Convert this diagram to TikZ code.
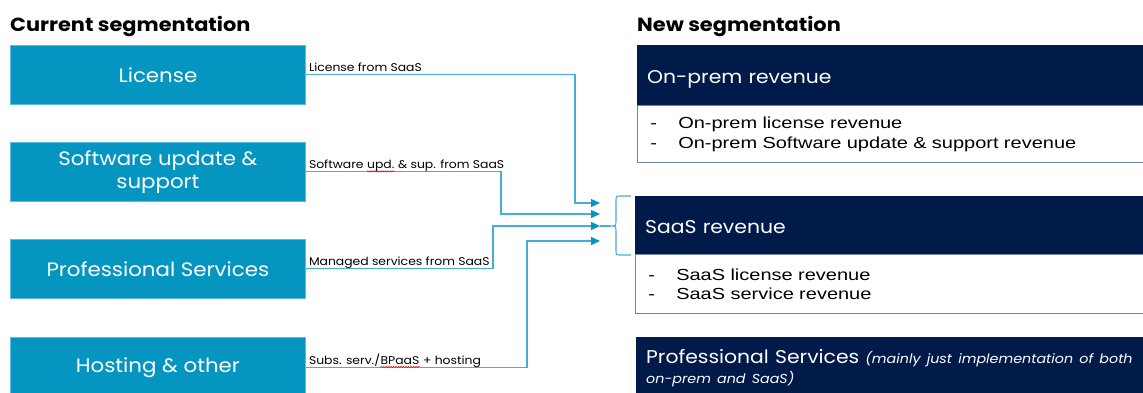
\documentclass[tikz,border=0pt]{standalone}
\usepackage{fontspec}
\setmainfont{Poppins}[FakeStretch=1.1]
\newfontfamily\arialf[FakeStretch=1.25]{Liberation Sans}
\usetikzlibrary{arrows.meta,decorations.pathmorphing}
\definecolor{lblue}{HTML}{0595C1}
\definecolor{lborder}{HTML}{5BBDE0}
\definecolor{navy}{HTML}{001A4A}
\definecolor{connc}{HTML}{45AED8}
\definecolor{bodyb}{HTML}{7083A3}
\begin{document}
\begin{tikzpicture}[x=1pt,y=-1pt,
 segbox/.style={fill=lblue,draw=lborder,line width=0.8pt,minimum width=295pt,minimum height=59pt,text=white,font=\fontsize{19.4}{23}\selectfont,align=center,inner sep=0pt,anchor=north west},
 hdrbox/.style={fill=navy,draw=navy,text=white,anchor=north west,text width=500pt,inner xsep=10pt,inner ysep=0pt,align=left,font=\fontsize{18.5}{20}\selectfont},
 hdrone/.style={hdrbox,text height=16pt,text depth=0pt},
 bodybox/.style={fill=white,draw=bodyb,line width=0.6pt,anchor=north west,text width=500pt,inner xsep=13pt,inner ysep=0pt,align=left,font=\arialf\fontsize{16}{19.5}\selectfont},
 conn/.style={draw=connc,line width=1.1pt,-{Triangle[length=9pt,width=8pt,color=lblue]}},
 connl/.style={draw=connc,line width=1.1pt},
 lab/.style={font=\fontsize{11.25}{13}\selectfont,inner sep=0pt,anchor=base west},
 ttl/.style={font=\bfseries\fontsize{19}{22}\selectfont,inner sep=0pt,anchor=base west},
 wavy/.style={draw=red!85!black,line width=0.4pt,decorate,decoration={snake,amplitude=0.7pt,segment length=2.5pt}}]
\useasboundingbox (0,0) rectangle (1143,392);
\clip (0,0) rectangle (1143,392);
\fill[white] (0,0) rectangle (1143,392);

% titles
\node[ttl] (ttlL) at (10,31) {Current segmentation};
\node[ttl] (ttlR) at (637,31) {New segmentation};

% left boxes
\node[segbox] (lic) at (10,45) {License};
\node[segbox] (sw) at (10,142) {Software update \&\\support};
\node[segbox] (ps) at (10,239) {Professional Services};
\node[segbox,minimum height=60pt] (host) at (10,337) {Hosting \& other};

% right boxes
\node[hdrone,minimum height=60pt] (oph) at (637,45) {On-prem revenue};
\node[bodybox,minimum height=57pt] (opb) at (oph.south west) {\makebox[28pt][l]{-}On-prem license revenue\\\makebox[28pt][l]{-}On-prem Software update \& support revenue};
\node[hdrone,minimum height=58pt] (sh) at (635,196) {SaaS revenue};
\node[bodybox,minimum height=59pt] (sb) at (sh.south west) {\makebox[28pt][l]{-}SaaS license revenue\\\makebox[28pt][l]{-}SaaS service revenue};
\node[hdrbox,minimum height=62pt] (ph) at (636,337) {Professional Services {\itshape\fontsize{13}{15}\selectfont (mainly just implementation of both}\\{\itshape\fontsize{13}{15}\selectfont on-prem and SaaS)}};

% arrow targets
\coordinate (a1) at (600,203);
\coordinate (a2) at (600,214);
\coordinate (a3) at (600,226);
\coordinate (a4) at (600,241);
\coordinate (bt) at (610,226);

% connectors
\draw[conn] (lic.east) -| ([xshift=-25pt]a1) -- (a1);
\draw[conn] (sw.east) -| ([xshift=-99pt]a2) -- (a2);
\draw[conn] (ps.east) -| ([xshift=-107pt]a3) -- (a3);
\draw[conn] (host.east) -| ([xshift=-73pt]a4) -- (a4);

% brace
\draw[connl] (631,196) -- (621,196) .. controls (616,196) .. (616,201) -- (616,220) .. controls (616,226) .. (bt)
  .. controls (616,226) .. (616,232) -- (616,250) .. controls (616,255) .. (621,255) -- (631,255);
\draw[connl] (a3) -- (bt);

% connector labels
\node[lab] (l1) at ([xshift=3pt,yshift=3pt]lic.east) {License from SaaS};
\node[lab] (l2a) at ([xshift=3pt,yshift=3pt]sw.east) {Software};
\node[lab] (l2b) at ([xshift=3.2pt]l2a.base east) {upd.};
\node[lab] (l2c) at (l2b.base east) {\ \& sup. from SaaS};
\draw[wavy] ([yshift=-2.5pt]l2b.base west) -- ([yshift=-2.5pt]l2b.base east);
\node[lab] (l3) at ([xshift=3pt,yshift=3pt]ps.east) {Managed services from SaaS};
\node[lab] (l4a) at ([xshift=3pt,yshift=3pt]host.east) {Subs. serv./};
\node[lab] (l4b) at (l4a.base east) {BPaaS};
\node[lab] (l4c) at (l4b.base east) {\ + hosting};
\draw[wavy] ([yshift=-2.5pt]l4b.base west) -- ([yshift=-2.5pt]l4b.base east);
\end{tikzpicture}
\end{document}
